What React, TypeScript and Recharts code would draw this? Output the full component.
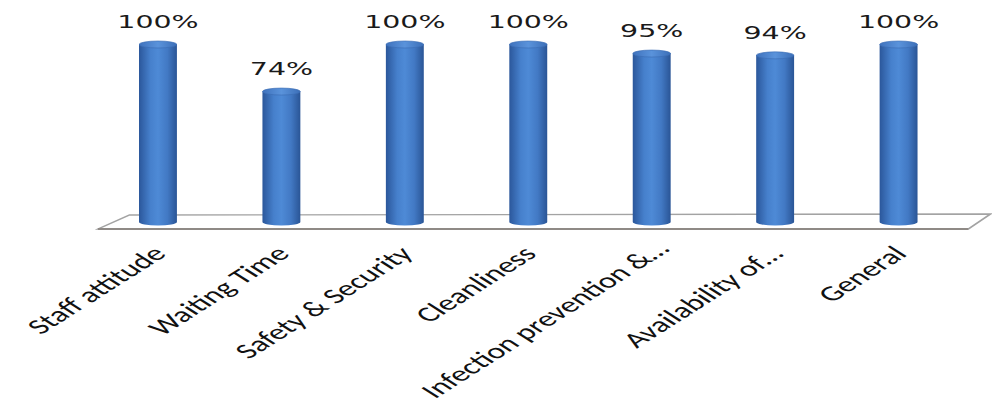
import { BarChart, Bar, XAxis, YAxis, LabelList, ReferenceArea } from "recharts";

const categories = [
  "Staff attitude",
  "Waiting Time",
  "Safety & Security",
  "Cleanliness",
  "Infection prevention &…",
  "Availability of…",
  "General",
];
const scores = [100, 74, 100, 100, 95, 94, 100];

const data = categories.map((name, i) => ({ name, score: scores[i] }));

// the source picture is stretched sideways, so draw narrow and stretch the svg
const STRETCH = 992 / 628;

function Cylinder(props: any) {
  const { x, y, width, height } = props;
  if (!height || height <= 0) return null;
  const rx = width / 2;
  const ry = 3.5;
  const cx = x + rx;
  const bottom = y + height;
  const top = y + ry;
  return (
    <g>
      <path
        d={`M${x},${top} L${x},${bottom} A${rx},${ry} 0 0 0 ${x + width},${bottom} L${x + width},${top} Z`}
        fill="url(#cylBody)"
      />
      <ellipse cx={cx} cy={top} rx={rx} ry={ry} fill="url(#cylTop)" stroke="#3b6db5" strokeWidth={0.5} />
    </g>
  );
}

function Floor(props: any) {
  const { x, y, width, height } = props;
  const base = y + height;
  const front = base + 7;
  const back = base - 7;
  const pts = [
    [x + 1, front],
    [x + 21, back],
    [x + width + 19, back - 1],
    [x + width + 5, front],
  ];
  return (
    <g>
      <polygon
        points={pts.map((p) => p.join(",")).join(" ")}
        fill="#ffffff"
        stroke="#a3a3a3"
        strokeWidth={1.3}
      />
      <line x1={x + 1} y1={front} x2={x + width + 5} y2={front} stroke="#8f8a86" strokeWidth={2} />
    </g>
  );
}

function CategoryTick(props: any) {
  const { x, y, payload } = props;
  const long = payload.value.length > 18;
  return (
    <g transform={`translate(${x + (long ? 12 : 6)},${y + (long ? 28 : 33)})`}>
      <text
        transform="rotate(-45)"
        textAnchor="end"
        fontFamily="Carlito, 'Liberation Sans', Arial, sans-serif"
        fontSize={21.5}
        fill="#111"
      >
        {payload.value}
      </text>
    </g>
  );
}

export default function App() {
  return (
    <div
      style={{
        position: "absolute",
        left: 0,
        top: 0,
        width: 628,
        height: 407,
        transform: `scale(${STRETCH}, 1)`,
        transformOrigin: "0 0",
      }}
    >
      <BarChart
        width={628}
        height={407}
        data={data}
        margin={{ top: 41, right: 20, bottom: 35, left: 61 }}
        barCategoryGap={0}
      >
        <defs>
          <linearGradient id="cylBody" x1="0" y1="0" x2="1" y2="0">
            <stop offset="0%" stopColor="#2b579b" />
            <stop offset="30%" stopColor="#4680cc" />
            <stop offset="50%" stopColor="#4e8ad6" />
            <stop offset="75%" stopColor="#4279c4" />
            <stop offset="100%" stopColor="#2a5596" />
          </linearGradient>
          <linearGradient id="cylTop" x1="0" y1="0" x2="1" y2="0">
            <stop offset="0%" stopColor="#3f72bd" />
            <stop offset="50%" stopColor="#5a93db" />
            <stop offset="100%" stopColor="#3c6fb8" />
          </linearGradient>
        </defs>
        <YAxis hide domain={[0, 100]} />
        <XAxis
          dataKey="name"
          interval={0}
          height={150}
          tickLine={false}
          axisLine={false}
          tickSize={0}
          tickMargin={0}
          tick={<CategoryTick />}
        />
        <ReferenceArea y1={0} y2={4} shape={<Floor />} ifOverflow="visible" />
        <Bar dataKey="score" barSize={24} shape={<Cylinder />} isAnimationActive={false}>
          <LabelList
            dataKey="score"
            position="top"
            offset={13}
            formatter={(v: any) => `${v}%`}
            fontFamily="'DejaVu Sans', Verdana, sans-serif"
            fontSize={18}
            fill="#1a1a1a"
          />
        </Bar>
      </BarChart>
    </div>
  );
}
